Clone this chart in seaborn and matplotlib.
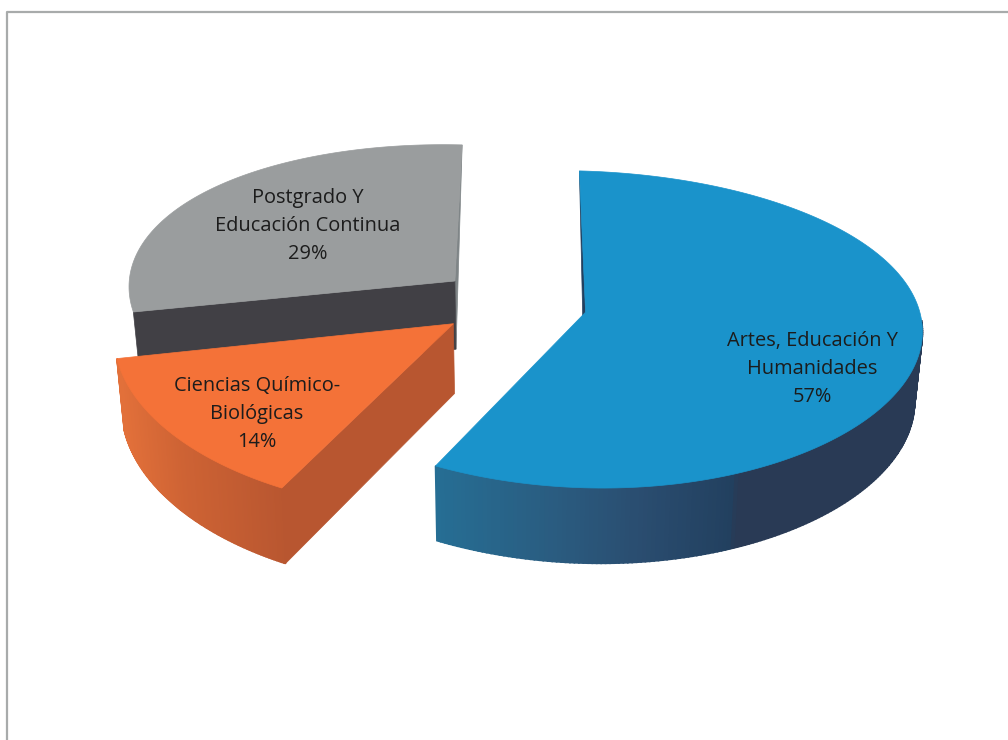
import numpy as np
import matplotlib
matplotlib.use('Agg')
import matplotlib.pyplot as plt
import seaborn as sns

categories = ['Artes, Educación Y\nHumanidades', 'Ciencias Químico-\nBiológicas', 'Postgrado Y\nEducación Continua']
values = [57, 14, 29]
top_colors = ['#1a93cb', '#f47238', '#9a9d9e']
side_colors = ['#22405f', '#b85630', '#414045']

EXPLODE = 0.22
label_pos = [(812, 369), (257, 414), (308, 226)]
# small per slice corrections, the excel perspective is not a clean ellipse
lean = [0, 18, 6]
rad_x = [1.0, 0.99, 0.965]
rad_y = [1.0, 1.04, 1.0]
apex_dx = [2, 0, 2]


def project(u, v, depth=0.0):
    # fake the excel 3d camera: disc plane to pixels
    x = 511 + 337 * u / (1 + 0.06 * v) - 6.5 * u * depth
    y = 303 - 155 * v / (1 + 0.108 * v) + 8 * u + (69 - 6 * v) * depth
    return x, y


def slice_arc(idx, start, stop, mid, depth=0.0, n=200):
    t = np.radians(np.linspace(start, stop, n))
    m = np.radians(mid)
    u = EXPLODE * np.sin(m) + rad_x[idx] * np.sin(t)
    v = EXPLODE * np.cos(m) + rad_y[idx] * np.cos(t)
    x, y = project(u, v, depth)
    return x + lean[idx] * np.cos(t), y


def apex(idx, mid, depth=0.0):
    m = np.radians(mid)
    x, y = project(EXPLODE * np.sin(m), EXPLODE * np.cos(m), depth)
    return x + apex_dx[idx], y


def outer_wall(ax, idx, start, stop, mid, stops_x, stops_rgb, n=160):
    # many thin quads so the wall gets a gradient
    xt, yt = slice_arc(idx, start, stop, mid, 0.0, n)
    xb, yb = slice_arc(idx, start, stop, mid, 1.0, n)
    rgb = np.array([matplotlib.colors.to_rgb(c) for c in stops_rgb])
    for i in range(n - 1):
        xm = (xt[i] + xt[i + 1]) / 2
        col = [np.interp(xm, stops_x, rgb[:, k]) for k in range(3)]
        ax.fill([xt[i], xt[i + 1], xb[i + 1], xb[i]],
                [yt[i], yt[i + 1], yb[i + 1], yb[i]],
                color=col, lw=1.2, zorder=2)


def radial_wall(ax, idx, theta, mid, color, zorder=2):
    xa, ya = apex(idx, mid)
    xa2, ya2 = apex(idx, mid, 1.0)
    xe, ye = slice_arc(idx, theta, theta, mid, 0.0, 1)
    xe2, ye2 = slice_arc(idx, theta, theta, mid, 1.0, 1)
    ax.fill([xa, xe[0], xe2[0], xa2], [ya, ye[0], ye2[0], ya2],
            color=color, lw=0.5, zorder=zorder)


def back_sliver(ax, idx, theta, mid, color, zorder=2):
    # the walls facing away only show as a thin strip along the edge
    xa, ya = apex(idx, mid)
    xa2, ya2 = apex(idx, mid, 1.0)
    xe, ye = slice_arc(idx, theta, theta, mid, 0.0, 1)
    ax.fill([xa, xe[0], xa2], [ya, ye[0], ya2], color=color, lw=0.5, zorder=zorder)


def top_face(ax, idx, start, stop, mid, color, zorder=3):
    xa, ya = apex(idx, mid)
    x, y = slice_arc(idx, start, stop, mid)
    ax.fill(np.r_[xa, x], np.r_[ya, y], color=color, lw=0.5, zorder=zorder)


sns.set_theme(style='white')
plt.rcParams['font.family'] = ['Open Sans', 'DejaVu Sans']

fig = plt.figure(figsize=(10.08, 7.4), dpi=100)
ax = fig.add_axes([0, 0, 1, 1])
ax.set_xlim(0, 1008)
ax.set_ylim(740, 0)
ax.axis('off')

# chart frame, only top and left show up in the reference
ax.plot([7, 7, 1008], [740, 12, 12], color='#a8abab', lw=1.6, zorder=1)

angles = np.cumsum([0] + values) / sum(values) * 360
mids = (angles[:-1] + angles[1:]) / 2

# gray slice goes first, it sits at the back
back_sliver(ax, 2, angles[3], mids[2], '#7f8587')
radial_wall(ax, 2, angles[2], mids[2], side_colors[2])
top_face(ax, 2, angles[2], angles[3], mids[2], top_colors[2])

# orange slice
outer_wall(ax, 1, angles[1], angles[2], mids[1],
           [120, 180, 285], ['#e2703a', '#ce6334', '#b85630'])
radial_wall(ax, 1, angles[1], mids[1], side_colors[1])
top_face(ax, 1, angles[1], angles[2], mids[1], top_colors[1])

# blue slice, the back wall is hidden under the top face
outer_wall(ax, 0, 90, angles[1], mids[0],
           [436, 560, 640, 733, 737, 920],
           ['#266e94', '#2a5b7f', '#2a4d70', '#22405f', '#293a55', '#293a55'])
back_sliver(ax, 0, 0, mids[0], side_colors[0])
top_face(ax, 0, 0, angles[1], mids[0], top_colors[0])

for cat, val, (lx, ly) in zip(categories, values, label_pos):
    ax.text(lx, ly, f'{cat}\n{val}%', ha='center', va='center', fontsize=14.4,
            color='#1c1c1c', linespacing=1.52, zorder=5)

fig.savefig('out.png', dpi=100)
